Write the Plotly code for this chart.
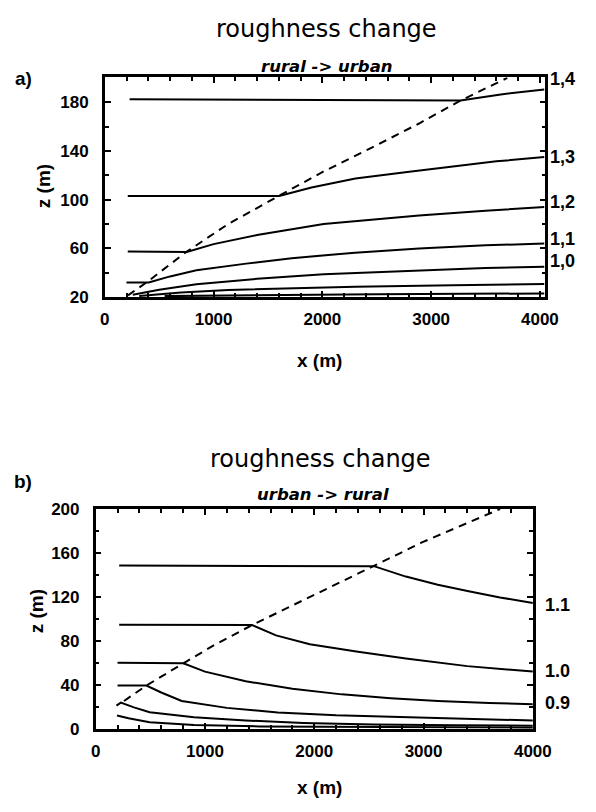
import plotly.graph_objects as go

W, H = 596, 812

# ---------------- panel a) rural -> urban ----------------
a_x1 = [228, 3270, 3640, 4040]
a_z1 = [182.5, 181.5, 186.5, 190.5]
a_x2 = [211, 1603, 1900, 2304, 2800, 3181, 3600, 4040]
a_z2 = [103, 103, 110, 117.5, 123, 127, 131.5, 135]
a_x3 = [211, 754, 1000, 1400, 2012, 2500, 2889, 3500, 4040]
a_z3 = [57.5, 57, 63.5, 71, 80, 84, 87, 91, 94]
a_x4 = [199, 404, 600, 842, 1300, 1719, 2300, 2889, 3500, 4040]
a_z4 = [32, 32, 37, 42, 47.5, 52, 56.5, 60, 62.5, 64]
a_x5 = [257, 500, 842, 1400, 2012, 2889, 3500, 4040]
a_z5 = [22, 26, 30.5, 35, 38.7, 42, 43.8, 45]
a_x6 = [316, 700, 1134, 1700, 2304, 3200, 4040]
a_z6 = [21, 23.8, 25.9, 27.4, 28.5, 29.8, 30.7]
a_x7 = [550, 1500, 2500, 4040]
a_z7 = [20.8, 21.6, 22.3, 23]
a_dash_x = [213, 404, 740, 1134, 1602, 2012, 2450, 2889, 3269, 3700]
a_dash_z = [21.4, 33.4, 56.5, 80, 103.2, 123.2, 142.6, 162.6, 181.4, 200]
a_labels = ["1,4", "1,3", "1,2", "1,1", "1,0"]

# ---------------- panel b) urban -> rural ----------------
b_x1 = [215, 2545, 2838, 3130, 3424, 3700, 4000]
b_z1 = [148.5, 148, 138.5, 131, 125, 119.5, 114.5]
b_x2 = [215, 1431, 1650, 1959, 2400, 2838, 3400, 4000]
b_z2 = [94.6, 94.4, 85, 77, 70, 64, 57, 52]
b_x3 = [200, 802, 1000, 1373, 1800, 2252, 2700, 3131, 3600, 4000]
b_z3 = [60, 59.6, 52, 43.2, 36.5, 31.3, 27.8, 25.3, 23.5, 22.3]
b_x4 = [200, 464, 600, 787, 1200, 1666, 2200, 2838, 3400, 4000]
b_z4 = [39.3, 39.3, 33, 25.3, 19, 14.9, 12.3, 10.4, 8.7, 7.5]
b_x5 = [190, 230, 350, 494, 900, 1373, 1900, 2545, 3300, 4000]
b_z5 = [21, 23.8, 19.5, 15, 10.5, 7.5, 5.3, 3.9, 3.1, 2.8]
b_x6 = [195, 300, 494, 900, 1500, 2500, 4000]
b_z6 = [12, 9.5, 6, 3.5, 2.1, 1.4, 1.0]
b_dash_x = [259, 464, 802, 1080, 1431, 1813, 2193, 2545, 2985, 3365, 3700]
b_dash_z = [25.3, 39.3, 59.6, 75.9, 94.4, 113.1, 131, 148.2, 169.6, 186, 200]
b_labels = ["1.1", "1.0", "0.9"]

x_ticks = [0, 1000, 2000, 3000, 4000]

fig = go.Figure()

solid = dict(color="black", width=2)
dashed = dict(color="black", width=2, dash="8px,6px")

for xs, zs in [(a_x1, a_z1), (a_x2, a_z2), (a_x3, a_z3), (a_x4, a_z4),
               (a_x5, a_z5), (a_x6, a_z6), (a_x7, a_z7)]:
    fig.add_trace(go.Scatter(x=xs, y=zs, mode="lines", line=solid,
                             xaxis="x", yaxis="y", showlegend=False, hoverinfo="skip"))
fig.add_trace(go.Scatter(x=a_dash_x, y=a_dash_z, mode="lines", line=dashed,
                         xaxis="x", yaxis="y", showlegend=False, hoverinfo="skip"))

for xs, zs in [(b_x1, b_z1), (b_x2, b_z2), (b_x3, b_z3), (b_x4, b_z4),
               (b_x5, b_z5), (b_x6, b_z6)]:
    fig.add_trace(go.Scatter(x=xs, y=zs, mode="lines", line=solid,
                             xaxis="x2", yaxis="y2", showlegend=False, hoverinfo="skip"))
fig.add_trace(go.Scatter(x=b_dash_x, y=b_dash_z, mode="lines", line=dashed,
                         xaxis="x2", yaxis="y2", showlegend=False, hoverinfo="skip"))

tickfont = dict(family="Liberation Sans", size=17, color="black", weight="bold")


def px2x(px):
    return px / W


def py2y(py):
    return 1 - py / H


def xax(left, right, rng, anchor):
    return dict(domain=[px2x(left), px2x(right)], range=rng, anchor=anchor,
                tickmode="array", tickvals=x_ticks, ticks="inside", ticklen=6,
                tickwidth=1.5, tickcolor="black",
                minor=dict(dtick=200, tick0=0, ticks="inside", ticklen=4,
                           tickwidth=1.5, tickcolor="black", showgrid=False),
                showline=True, linewidth=2.5, linecolor="black", mirror="ticks",
                showgrid=False, zeroline=False, tickfont=tickfont,
                ticklabelstandoff=5)


def yax(top_px, bot_px, rng, tick0, anchor):
    return dict(domain=[py2y(bot_px), py2y(top_px)], range=rng, anchor=anchor,
                tick0=tick0, dtick=40, ticks="inside", ticklen=6, tickwidth=1.5,
                tickcolor="black",
                minor=dict(dtick=20, tick0=tick0, ticks="inside", ticklen=4,
                           tickwidth=1.5, tickcolor="black", showgrid=False),
                showline=True, linewidth=2.5, linecolor="black", mirror="ticks",
                showgrid=False, zeroline=False, tickfont=tickfont,
                ticklabelstandoff=10)


fig.update_layout(
    width=W, height=H, autosize=False,
    margin=dict(l=0, r=0, t=0, b=0),
    paper_bgcolor="white", plot_bgcolor="white",
    showlegend=False,
    xaxis=xax(104, 563, [0, 4050], "y"),
    yaxis=yax(70, 295, [20, 200.5], 20, "x"),
    xaxis2=xax(94.5, 550, [0, 4000], "y2"),
    yaxis2=yax(512, 737, [0, 200], 0, "x2"),
)


def ann(text, px, py, size, family="Liberation Sans", weight="normal",
        style="normal", xanchor="center", textangle=0):
    fig.add_annotation(text=text, x=px2x(px), y=py2y(py), xref="paper", yref="paper",
                       showarrow=False, xanchor=xanchor, yanchor="middle",
                       textangle=textangle,
                       font=dict(family=family, size=size, color="black",
                                 weight=weight, style=style))


# panel a texts
ann("roughness change", 335, 20, 24, family="DejaVu Sans")
ann("rural -&gt; urban", 335, 59, 16.5, family="DejaVu Sans", weight="bold", style="italic")
ann("a)", 19, 71, 19, weight="bold")
ann("x (m)", 328, 360, 19, weight="bold")
ann("z (m)", 40, 181, 19, weight="bold", textangle=-90)
for txt, py in zip(a_labels, [72, 152, 198, 236, 258]):
    ann(txt, 566, py, 18, weight="bold", xanchor="left")

# panel b texts
ann("roughness change", 329, 461, 24, family="DejaVu Sans")
ann("urban -&gt; rural", 331, 497, 16.5, family="DejaVu Sans", weight="bold", style="italic")
ann("b)", 19, 484, 19, weight="bold")
ann("x (m)", 328, 797, 19, weight="bold")
ann("z (m)", 33, 617, 19, weight="bold", textangle=-90)
for txt, py in zip(b_labels, [610, 678, 711]):
    ann(txt, 561, py, 18, weight="bold", xanchor="left")

fig.write_html(
    "out.html",
    config={"displayModeBar": False},
    post_script="document.body.style.margin='0';document.body.style.overflow='hidden';",
)
